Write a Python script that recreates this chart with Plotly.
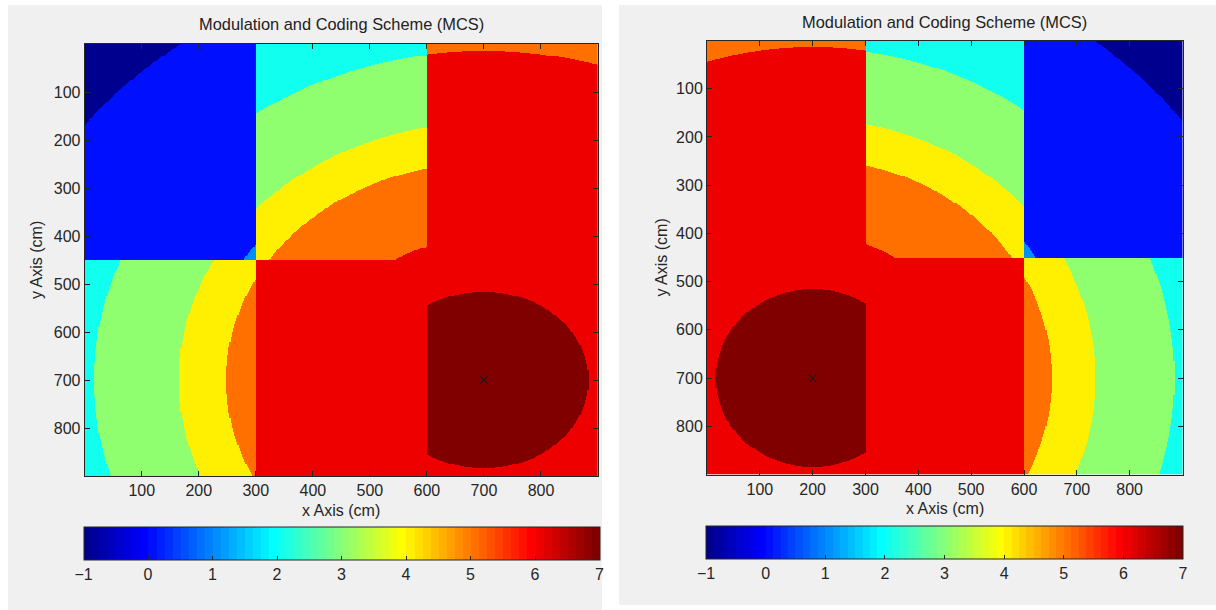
import numpy as np
import plotly.graph_objects as go

# ---------------------------------------------------------------------------
# Floor plan (cm): walls split the 900 x 900 cm area into 3 x 2 rooms
ROOM_X_EDGES = [0, 300, 600, 900]
ROOM_Y_EDGES = [0, 450, 900]

# Access point position (cm) in each scenario
AP_LEFT = (700, 700)
AP_RIGHT = (200, 700)

# MCS bands by number of walls between the AP room and the receiver room:
# MCS index of each band and the radius (cm) where it ends (None = room edge)
MCS_0_WALLS = [7, 6]
RADIUS_0_WALLS = [184, None]
MCS_1_WALL = [6, 5]
RADIUS_1_WALL = [686, None]
MCS_2_WALLS = [6, 5, 4, 3, 2]
RADIUS_2_WALLS = [295, 452, 535, 684, None]
MCS_3_WALLS = [1, 0, -1]
RADIUS_3_WALLS = [490, 879, None]

AXIS_TICKS = [100, 200, 300, 400, 500, 600, 700, 800]
COLORBAR_TICKS = [-1, 0, 1, 2, 3, 4, 5, 6, 7]
TITLE = "Modulation and Coding Scheme (MCS)"
X_LABEL = "x Axis (cm)"
Y_LABEL = "y Axis (cm)"

CELL = 2  # grid resolution, cm
FONT = "Liberation Sans, Arial, sans-serif"
W, H = 1216, 610
DARK = "#262626"

BANDS = [
    (MCS_0_WALLS, RADIUS_0_WALLS),
    (MCS_1_WALL, RADIUS_1_WALL),
    (MCS_2_WALLS, RADIUS_2_WALLS),
    (MCS_3_WALLS, RADIUS_3_WALLS),
]

centers = np.arange(CELL / 2, ROOM_X_EDGES[-1], CELL)
GX, GY = np.meshgrid(centers, centers)


def room_index(v, edges):
    return np.searchsorted(edges[1:-1], v, side="right")


def mcs_map(ap):
    col = room_index(GX, ROOM_X_EDGES)
    row = room_index(GY, ROOM_Y_EDGES)
    walls = np.abs(col - room_index(ap[0], ROOM_X_EDGES)) + np.abs(
        row - room_index(ap[1], ROOM_Y_EDGES))
    dist = np.hypot(GX - ap[0], GY - ap[1])
    z = np.full(GX.shape, np.nan)
    for n, (levels, radii) in enumerate(BANDS):
        zz = np.full(GX.shape, float(levels[-1]))
        for lvl, r in reversed(list(zip(levels[:-1], radii[:-1]))):
            zz = np.where(dist < r, lvl, zz)
        z[walls == n] = zz[walls == n]
    return z


def jet(m=64):
    """MATLAB-style jet colormap with m entries."""
    n = int(np.ceil(m / 4))
    u = np.concatenate([np.arange(1, n + 1) / n, np.ones(n - 1), np.arange(n, 0, -1) / n])
    g = int(np.ceil(n / 2)) - (1 if m % 4 == 1 else 0) + np.arange(1, len(u) + 1)
    r = g + n
    b = g - n
    g = g[g <= m]
    r = r[r <= m]
    b = b[b >= 1]
    J = np.zeros((m, 3))
    J[r - 1, 0] = u[: len(r)]
    J[g - 1, 1] = u[: len(g)]
    J[b - 1, 2] = u[len(u) - len(b):]
    return J


def stepped_scale(cmap):
    m = len(cmap)
    scale = []
    for k, c in enumerate(cmap):
        col = "rgb(%d,%d,%d)" % tuple(np.round(c * 255).astype(int))
        scale.append([k / m, col])
        scale.append([1.0 if k == m - 1 else (k + 1) / m - 1e-9, col])
    return scale


JET = stepped_scale(jet(64))


def px_x(p):
    return p / W


def px_y(p):
    return 1 - p / H


# Pixel layout of each panel: plot box and colour bar
PANELS = [
    dict(ap=AP_LEFT, box=(84.7, 598.0, 44.0, 476.0), cbar=(83.5, 599.0, 527.0, 560.0),
         bg=(8, 602, 5, 610), title_y=24, xlab_y=510, ylab_x=36),
    dict(ap=AP_RIGHT, box=(707.0, 1182.5, 40.5, 474.5), cbar=(706.0, 1182.5, 526.0, 558.5),
         bg=(619, 1216, 5, 605), title_y=22, xlab_y=508, ylab_x=661),
]

fig = go.Figure()
shapes, annotations = [], []
axis_style = dict(
    showline=True, linecolor=DARK, linewidth=1, mirror="ticks",
    ticks="inside", ticklen=5, tickcolor=DARK, tickwidth=1,
    showgrid=False, zeroline=False, tickvals=AXIS_TICKS,
    tickfont=dict(family=FONT, size=16, color=DARK),
)

for i, p in enumerate(PANELS):
    sfx = "" if i == 0 else str(i + 1)
    x0, x1, y0, y1 = p["box"]
    c0, c1, cy0, cy1 = p["cbar"]
    zmin, zmax = COLORBAR_TICKS[0], COLORBAR_TICKS[-1]
    fig.add_trace(go.Heatmap(
        x=centers, y=centers, z=mcs_map(p["ap"]),
        colorscale=JET, zmin=zmin, zmax=zmax, zsmooth=False,
        xaxis="x" + sfx, yaxis="y" + sfx, hoverinfo="skip",
        colorbar=dict(
            orientation="h", x=px_x(c0), xanchor="left", y=px_y(cy0), yanchor="top",
            len=c1 - c0, lenmode="pixels", thickness=cy1 - cy0, thicknessmode="pixels",
            xpad=0, ypad=0, outlinewidth=1, outlinecolor=DARK,
            ticks="inside", ticklen=4, tickcolor=DARK, tickvals=COLORBAR_TICKS,
            tickfont=dict(family=FONT, size=16, color=DARK),
        ),
    ))
    fig.add_trace(go.Scatter(
        x=[p["ap"][0]], y=[p["ap"][1]], mode="markers",
        marker=dict(symbol="x-thin", size=7, line=dict(width=1.2, color="#1a1a1a")),
        xaxis="x" + sfx, yaxis="y" + sfx, showlegend=False, hoverinfo="skip",
    ))
    fig.layout["xaxis" + sfx] = dict(
        axis_style, domain=[px_x(x0), px_x(x1)], range=[ROOM_X_EDGES[0], ROOM_X_EDGES[-1]],
        anchor="y" + sfx)
    fig.layout["yaxis" + sfx] = dict(
        axis_style, domain=[px_y(y1), px_y(y0)], range=[ROOM_Y_EDGES[-1], ROOM_Y_EDGES[0]],
        anchor="x" + sfx)
    bx0, bx1, by0, by1 = p["bg"]
    shapes.append(dict(type="rect", xref="paper", yref="paper", layer="below",
                       x0=px_x(bx0), x1=px_x(bx1), y0=px_y(by1), y1=px_y(by0),
                       fillcolor="#f0f0f0", line=dict(width=0)))
    # short tick marks along the top edge of the colour bar
    for t in COLORBAR_TICKS[1:-1]:
        tx = px_x(c0 + (t - zmin) / (zmax - zmin) * (c1 - c0))
        shapes.append(dict(type="line", xref="paper", yref="paper", layer="above",
                           x0=tx, x1=tx, y0=px_y(cy0), y1=px_y(cy0 + 4),
                           line=dict(color=DARK, width=1)))
    cx = px_x((x0 + x1) / 2)
    annotations.append(dict(text=TITLE, x=cx, y=px_y(p["title_y"]), xref="paper", yref="paper",
                            showarrow=False, xanchor="center", yanchor="middle",
                            font=dict(family=FONT, size=16.4, color="#222222")))
    annotations.append(dict(text=X_LABEL, x=cx, y=px_y(p["xlab_y"]), xref="paper", yref="paper",
                            showarrow=False, xanchor="center", yanchor="middle",
                            font=dict(family=FONT, size=16, color=DARK)))
    annotations.append(dict(text=Y_LABEL, x=px_x(p["ylab_x"]), y=px_y((y0 + y1) / 2),
                            xref="paper", yref="paper", textangle=-90,
                            showarrow=False, xanchor="center", yanchor="middle",
                            font=dict(family=FONT, size=16, color=DARK)))

fig.update_layout(
    width=W, height=H, margin=dict(l=0, r=0, t=0, b=0),
    paper_bgcolor="white", plot_bgcolor="white",
    showlegend=False, shapes=shapes, annotations=annotations,
)

fig.write_html("out.html")
